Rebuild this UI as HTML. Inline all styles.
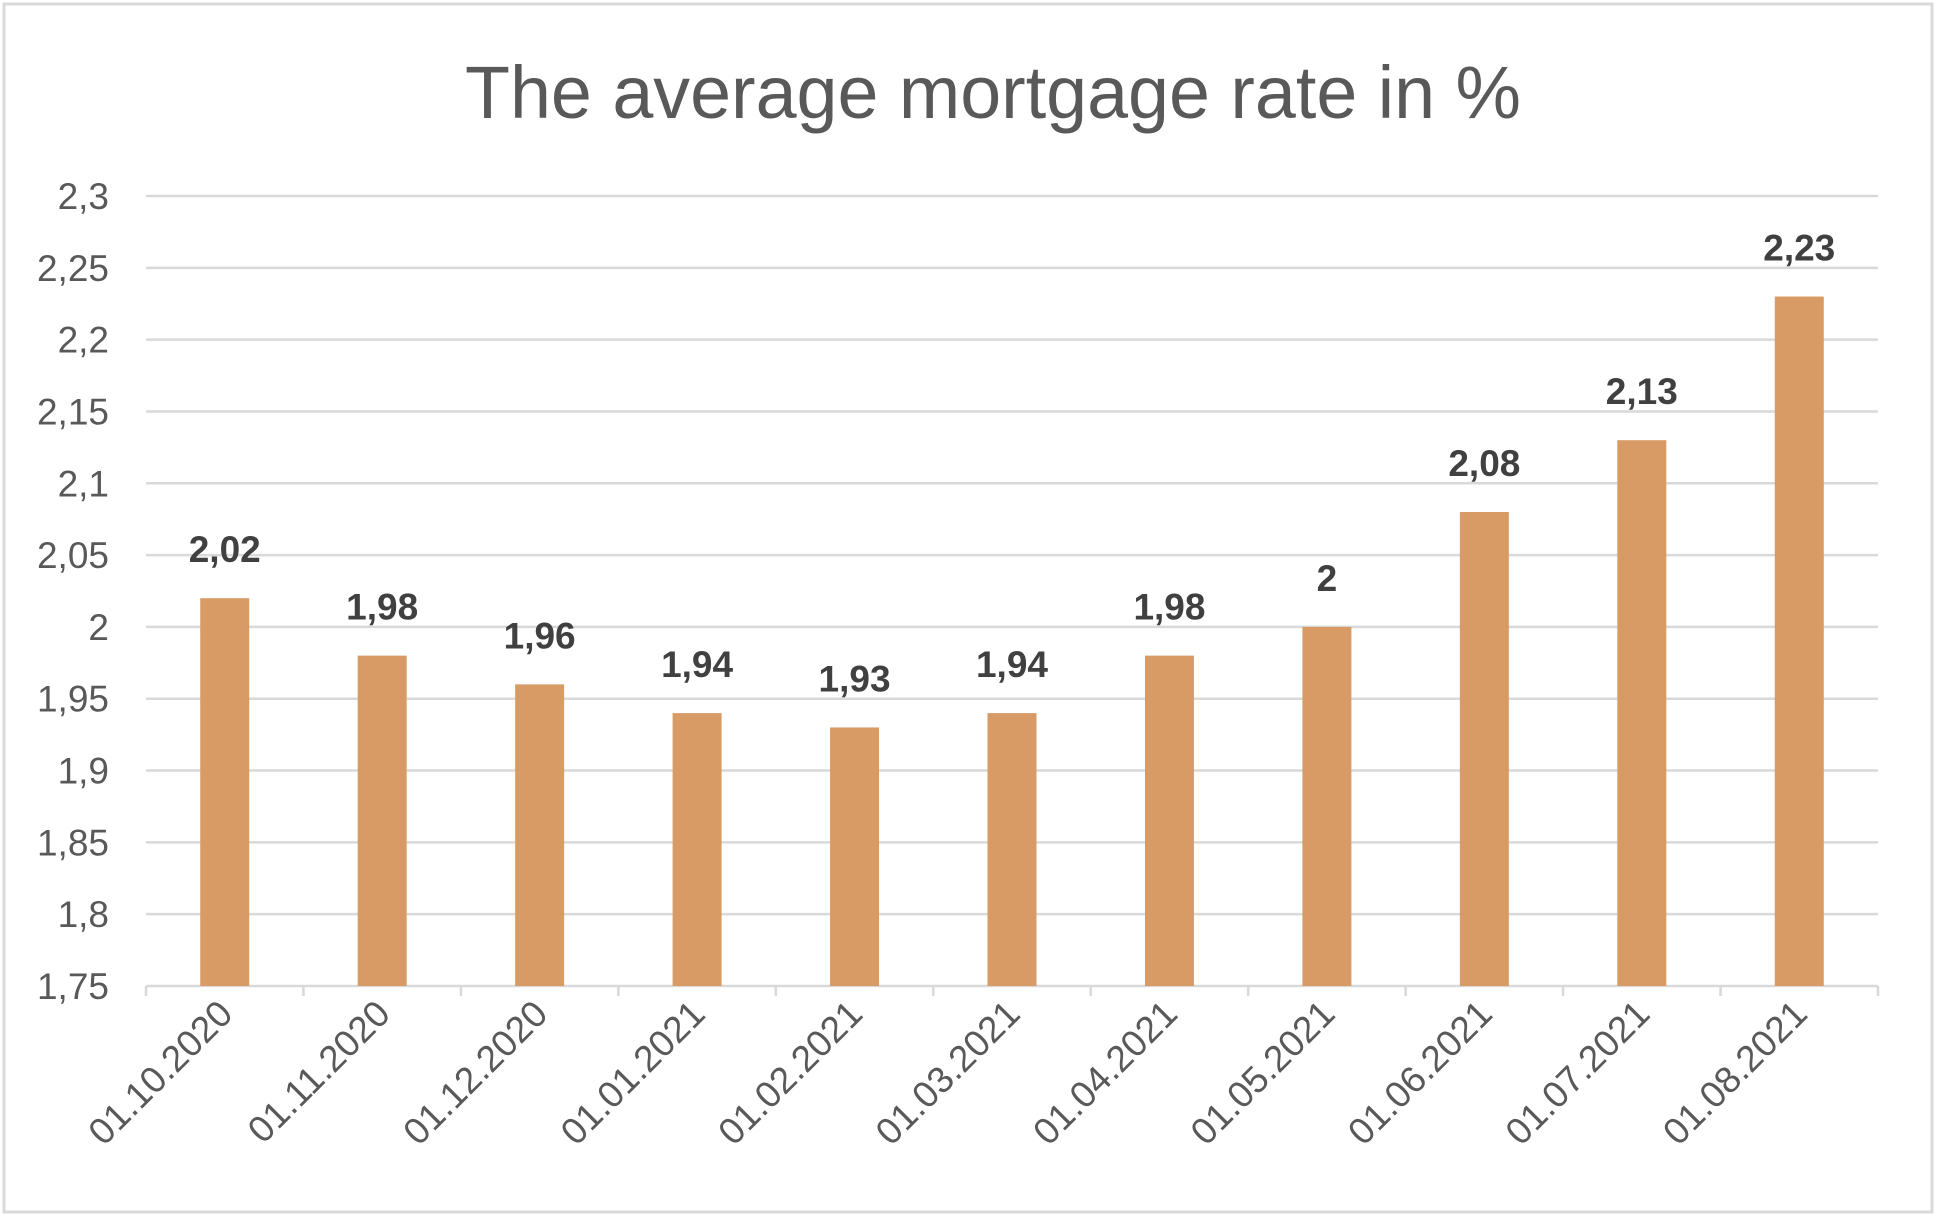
<!DOCTYPE html>
<html><head><meta charset="utf-8"><style>
body{margin:0;background:#fff;}
svg text{font-family:"Liberation Sans",sans-serif;}
</style></head><body>
<svg width="1938" height="1219" viewBox="0 0 1938 1219" xmlns="http://www.w3.org/2000/svg">
<rect x="4" y="4" width="1928" height="1208" fill="#fff" stroke="#d9d9d9" stroke-width="3"/>
<text x="993" y="118" text-anchor="middle" font-size="74" fill="#595959" textLength="1056" lengthAdjust="spacingAndGlyphs">The average mortgage rate in %</text>
<g id="grid"></g><g id="bars"></g><g id="labels"></g>
</svg>
<script>
const categories=["01.10.2020","01.11.2020","01.12.2020","01.01.2021","01.02.2021","01.03.2021","01.04.2021","01.05.2021","01.06.2021","01.07.2021","01.08.2021"];
const values=[2.02,1.98,1.96,1.94,1.93,1.94,1.98,2,2.08,2.13,2.23];
const valueLabels=["2,02","1,98","1,96","1,94","1,93","1,94","1,98","2","2,08","2,13","2,23"];
const yTicks=[1.75,1.8,1.85,1.9,1.95,2,2.05,2.1,2.15,2.2,2.25,2.3];
const yTickLabels=["1,75","1,8","1,85","1,9","1,95","2","2,05","2,1","2,15","2,2","2,25","2,3"];
const NS="http://www.w3.org/2000/svg";
const L=146,R=1878,T=196,B=986,yMin=1.75,yMax=2.3;
const y=v=>B-(v-yMin)/(yMax-yMin)*(B-T);
const cw=(R-L)/categories.length;
const x=i=>L+cw*(i+0.5);
function mk(tag,attrs,parent,text){const e=document.createElementNS(NS,tag);for(const k in attrs)e.setAttribute(k,attrs[k]);if(text!==undefined)e.textContent=text;parent.appendChild(e);return e;}
const grid=document.getElementById('grid'),bars=document.getElementById('bars'),labels=document.getElementById('labels');
yTicks.forEach((t,i)=>{
  if(i>0){const g=mk('line',{x1:L,x2:R,y1:y(t),y2:y(t),stroke:'#d9d9d9','stroke-width':2.5},grid);
  
  }
  const tl=mk('text',{x:109,y:y(t)+13,'text-anchor':'end','font-size':37,fill:'#595959'},labels,yTickLabels[i]);
  
  
});
const ax=mk('line',{x1:L,x2:R,y1:B,y2:B,stroke:'#d9d9d9','stroke-width':2.5},grid);


for(let i=0;i<=categories.length;i++){const tk=mk('line',{x1:L+cw*i,x2:L+cw*i,y1:B,y2:B+10,stroke:'#d9d9d9','stroke-width':2.5},grid);

}
const bw=49;
values.forEach((v,i)=>{
  const r=mk('rect',{x:x(i)-bw/2,y:y(v),width:bw,height:B-y(v),fill:'#d89b66'},bars);
  
  
  const vl=mk('text',{x:x(i),y:y(v)-36,'text-anchor':'middle','font-size':37,'font-weight':'bold',fill:'#404040'},labels,valueLabels[i]);
  
  
  const cx=x(i)+10,cy=B+30;
  const xl=mk('text',{x:cx,y:cy,'text-anchor':'end','font-size':37,fill:'#595959',transform:`rotate(-45 ${cx} ${cy})`},labels,categories[i]);
  
  
});
</script>
</body></html>
